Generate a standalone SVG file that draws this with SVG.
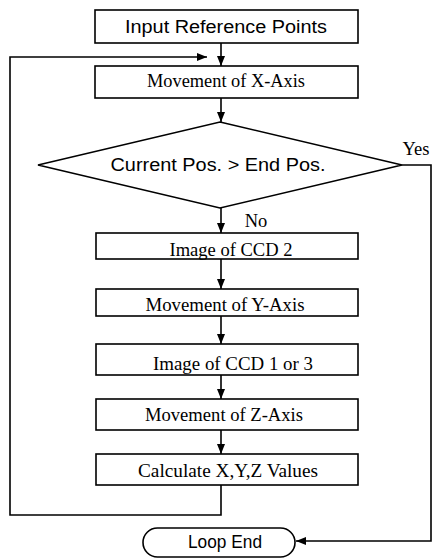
<svg xmlns="http://www.w3.org/2000/svg" width="432" height="559" viewBox="0 0 432 559">
<defs>
<marker id="ah" viewBox="0 0 10 8" refX="10" refY="4" markerWidth="10" markerHeight="8" markerUnits="userSpaceOnUse" orient="auto">
<path d="M0,0 L10,4 L0,8 Z" fill="#000"/>
</marker>
</defs>
<style>
.box{fill:#fff;stroke:#000;stroke-width:1.6}
.ln{fill:none;stroke:#000;stroke-width:1.6}
.tm{font-family:"Liberation Serif","Times New Roman",serif;font-size:18.5px;fill:#000;text-anchor:middle}
.gs{font-family:"Liberation Sans",Arial,sans-serif;font-size:18px;fill:#000;text-anchor:middle}
</style>
<rect width="432" height="559" fill="#fff"/>
<g id="connectors">
<line class="ln" x1="221" y1="43" x2="221" y2="66" marker-end="url(#ah)"/>
<polyline class="ln" points="221,485 221,515 10,515 10,57 207,57" marker-end="url(#ah)"/>
<line class="ln" x1="221" y1="98" x2="221" y2="122" marker-end="url(#ah)"/>
<line class="ln" x1="221" y1="208" x2="221" y2="233" marker-end="url(#ah)"/>
<line class="ln" x1="221" y1="259" x2="221" y2="289" marker-end="url(#ah)"/>
<line class="ln" x1="221" y1="316" x2="221" y2="344" marker-end="url(#ah)"/>
<line class="ln" x1="221" y1="375" x2="221" y2="399" marker-end="url(#ah)"/>
<line class="ln" x1="221" y1="430" x2="221" y2="454" marker-end="url(#ah)"/>
<polyline class="ln" points="402,165 431,165 431,541 296,541" marker-end="url(#ah)"/>
<text class="tm" x="416" y="155" font-size="17">Yes</text>
<text class="tm" x="256" y="227" font-size="17">No</text>
</g>
<g id="input">
<rect class="box" x="95" y="10" width="263" height="33"/>
<text class="gs" x="226" y="33" textLength="202" lengthAdjust="spacingAndGlyphs">Input Reference Points</text>
</g>
<g id="movex">
<rect class="box" x="95" y="66" width="263" height="32"/>
<text class="tm" x="226" y="87" textLength="158" lengthAdjust="spacingAndGlyphs">Movement of X-Axis</text>
</g>
<g id="decision">
<polygon class="box" points="220,122 402,165 220,208 38,165"/>
<text class="gs" x="218" y="171" textLength="215" lengthAdjust="spacingAndGlyphs">Current Pos. &gt; End Pos.</text>
</g>
<g id="ccd2">
<rect class="box" x="96" y="233" width="262" height="26"/>
<text class="tm" x="231" y="255.5" textLength="123" lengthAdjust="spacingAndGlyphs">Image of CCD 2</text>
</g>
<g id="movey">
<rect class="box" x="96" y="289" width="262" height="27"/>
<text class="tm" x="225" y="311" textLength="159" lengthAdjust="spacingAndGlyphs">Movement of Y-Axis</text>
</g>
<g id="ccd13">
<rect class="box" x="96" y="344" width="262" height="31"/>
<text class="tm" x="233" y="370" textLength="160" lengthAdjust="spacingAndGlyphs">Image of CCD 1 or 3</text>
</g>
<g id="movez">
<rect class="box" x="96" y="399" width="262" height="31"/>
<text class="tm" x="224" y="421" textLength="158" lengthAdjust="spacingAndGlyphs">Movement of Z-Axis</text>
</g>
<g id="calc">
<rect class="box" x="96" y="454" width="262" height="31"/>
<text class="tm" x="228" y="477" textLength="180" lengthAdjust="spacingAndGlyphs">Calculate X,Y,Z Values</text>
</g>
<g id="loopend">
<rect class="box" x="143" y="528" width="152" height="29" rx="14.5" ry="14.5"/>
<text class="gs" x="225" y="548" textLength="74" lengthAdjust="spacingAndGlyphs">Loop End</text>
</g>
</svg>
